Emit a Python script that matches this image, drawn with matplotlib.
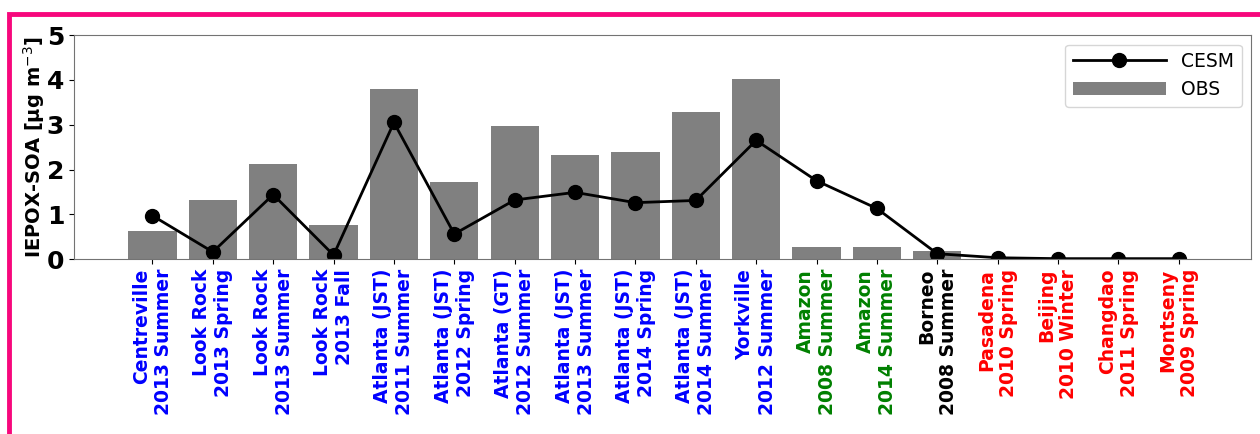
import numpy as np
import matplotlib.pyplot as plt
from matplotlib.patches import Rectangle

# Sites / campaigns
sites = ['Centreville\n2013 Summer', 'Look Rock\n2013 Spring', 'Look Rock\n2013 Summer',
         'Look Rock\n2013 Fall', 'Atlanta (JST)\n2011 Summer', 'Atlanta (JST)\n2012 Spring',
         'Atlanta (GT)\n2012 Summer', 'Atlanta (JST)\n2013 Summer', 'Atlanta (JST)\n2014 Spring',
         'Atlanta (JST)\n2014 Summer', 'Yorkville\n2012 Summer', 'Amazon\n2008 Summer',
         'Amazon\n2014 Summer', 'Borneo\n2008 Summer', 'Pasadena\n2010 Spring',
         'Beijing\n2010 Winter', 'Changdao\n2011 Spring', 'Montseny\n2009 Spring']
label_colors = ['blue'] * 11 + ['green'] * 2 + ['black'] + ['red'] * 4

# IEPOX-SOA concentrations (ug m-3)
obs = [0.63, 1.32, 2.12, 0.76, 3.79, 1.73, 2.98, 2.33, 2.40, 3.28, 4.01, 0.26, 0.28, 0.17,
       0, 0, 0, 0]
cesm = [0.97, 0.16, 1.44, 0.09, 3.05, 0.56, 1.32, 1.49, 1.26, 1.31, 2.65, 1.75, 1.13, 0.12,
        0.03, 0.01, 0.01, 0.01]

x = np.arange(len(sites))

fig = plt.figure(figsize=(12.6, 4.34), dpi=100)
ax = fig.add_axes([0.0587, 0.403, 0.9343, 0.516])

ax.bar(x, obs, width=0.8, color='gray', label='OBS')
ax.plot(x, cesm, '-o', color='black', lw=2, markersize=10, label='CESM')

ax.set_xlim(-1.3, 18.2)
ax.set_ylim(0, 5)
ax.set_xticks(x)
ax.set_xticklabels(sites, rotation=90, fontsize=13.5, fontweight='bold',
                   ha='center', multialignment='right')
for lbl, c in zip(ax.get_xticklabels(), label_colors):
    lbl.set_color(c)
ax.set_yticks(range(6))
ax.tick_params(axis='y', labelsize=18)
for lbl in ax.get_yticklabels():
    lbl.set_fontweight('bold')
ax.set_ylabel('IEPOX-SOA [μg m$^{-3}$]', fontsize=14, fontweight='bold', labelpad=0)

for sp in ax.spines.values():
    sp.set_color('0.45')

ax.legend(loc='upper right', fontsize=13.5, handlelength=5.0)

# pink frame around the figure
fig.patches.append(Rectangle((9 / 1260, -0.2), 1.5, 1.2 - 13.5 / 434, transform=fig.transFigure,
                             fill=False, edgecolor='#f7077c', lw=3.5, figure=fig))

fig.savefig('out.png', dpi=100)
